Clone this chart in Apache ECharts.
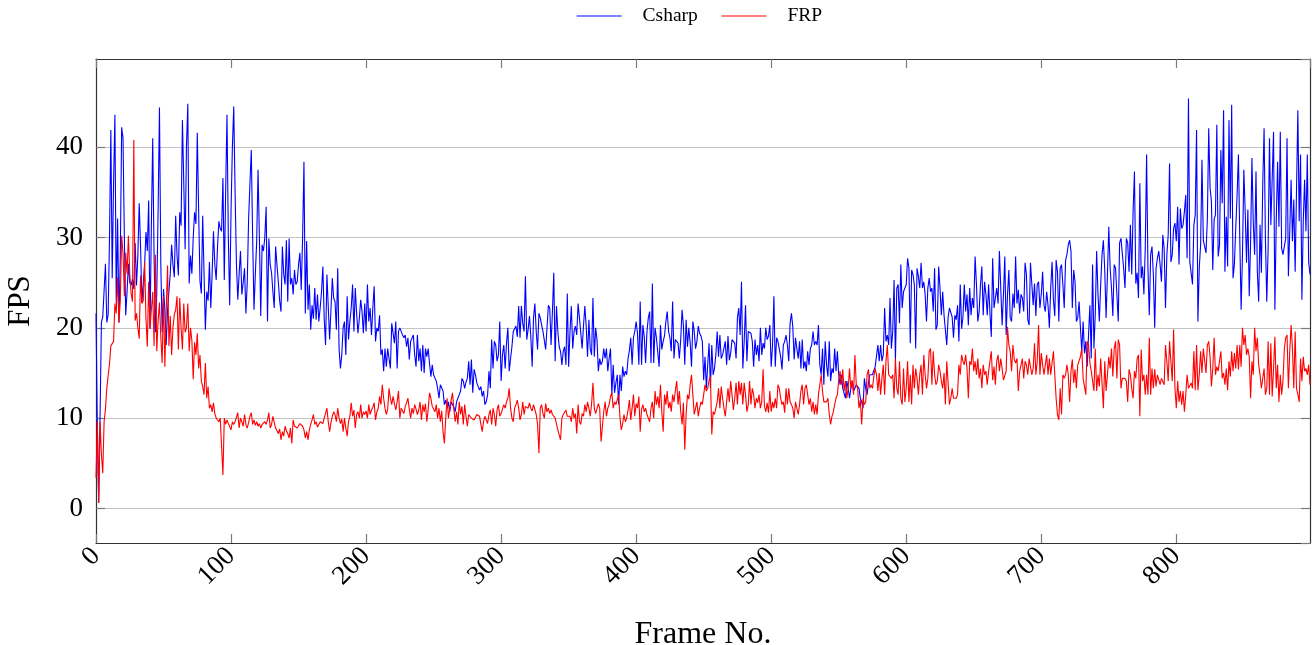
<!DOCTYPE html>
<html>
<head>
<meta charset="utf-8">
<title>FPS per frame</title>
<script src="https://cdn.jsdelivr.net/npm/echarts@6/dist/echarts.min.js"></script>
<style>
  html, body { margin: 0; padding: 0; background: #ffffff; }
  #chart { width: 1315px; height: 645px; }
</style>
</head>
<body>
<div id="chart"></div>
<script>
// Frame rate measured on each frame (index = frame number)
const seriesNames = ['Csharp', 'FRP'];

const csharpFps = [
  21.6, 9, 0.6, 10, 20.6, 21.2, 21, 27.1, 20.6, 21.5,
  30, 41.9, 25.5, 36, 43.6, 22.7, 32.1, 20.6, 28, 42.2,
  41, 30, 21.4, 24, 27.1, 25, 24.7, 25.4, 24.3, 29.4,
  24.7, 28, 33.8, 29, 22.8, 25, 27, 30.6, 28.5, 34.1,
  19.9, 31.3, 41, 28, 19.5, 23.8, 33, 44.4, 27, 19.5,
  24.3, 22, 18.1, 22, 24, 26, 29.2, 27, 25.6, 32.4,
  28, 25.8, 32.8, 31.3, 43, 36, 28.7, 40.2, 44.8, 24.9,
  28, 26, 30, 32.8, 31.5, 41.6, 33, 25.2, 23.8, 32.4,
  32.3, 19.8, 24, 23, 27.3, 22.2, 26, 30.7, 27, 25.3,
  29, 31.8, 31, 30.7, 36.6, 25.3, 35, 43.6, 30, 22.5,
  33, 40, 44.5, 35, 27, 23.1, 26, 28.5, 23.7, 25,
  26.6, 21.6, 25, 32, 36, 39.7, 30, 22, 26, 29.6,
  37.5, 30, 21.3, 29.2, 28.5, 30, 33.4, 20.7, 29.9, 27,
  26.1, 24, 22.2, 29, 27, 25.1, 23, 21.8, 29, 26,
  24.8, 29.7, 22.9, 29.9, 24.8, 25.5, 23.7, 26.4, 24.8, 25.1,
  27, 28.3, 24.2, 30, 38.4, 21.6, 29.6, 22, 24.8, 19.8,
  22.5, 21, 24.4, 20.9, 23.7, 20.7, 22.2, 24, 26.8, 21,
  18.1, 25.9, 25.7, 18.7, 22, 25.5, 23.3, 22.9, 19.8, 26.6,
  17.7, 15.5, 17, 20, 20.7, 17, 23.5, 18.7, 20.7, 22.2,
  24.8, 19.6, 24.4, 21.6, 19.4, 21, 23.1, 21.8, 19.4, 22.7,
  19.6, 24.8, 20.7, 22.2, 19.2, 22.2, 24.6, 18.5, 20, 19.6,
  21.4, 17, 17.6, 15.2, 17.7, 15.7, 17.7, 17.7, 15.5, 20.5,
  20.3, 18.3, 20.7, 15.5, 19.6, 20, 19.6, 19.2, 18.9, 19.2,
  17.9, 18.9, 16.5, 18.5, 18.7, 19.2, 17, 15.7, 19.2, 16.3,
  17.7, 15.2, 18.1, 15, 17.7, 16.8, 17.7, 16, 14.6, 15.9,
  14.8, 14.8, 14.1, 13.3, 12.2, 13.7, 13.5, 13, 11.5, 12,
  11.1, 11.8, 10.7, 11.8, 11.5, 11.2, 10.7, 11.8, 12.2, 12.6,
  13, 14.4, 14.1, 13.3, 14, 14.4, 16.3, 13.7, 16.5, 12.8,
  15.4, 14.8, 13.9, 13.9, 13.1, 13.5, 12.4, 13, 11.5, 11.8,
  12.6, 15.2, 13.3, 18.7, 15.5, 18.5, 18.1, 16.3, 17, 20.7,
  14.1, 17, 18.1, 15.5, 18.3, 20, 15.2, 16.6, 17.9, 19.6,
  19.4, 20.2, 19, 22.4, 18.9, 22.4, 20.5, 19.6, 25.7, 18.7,
  19.8, 21.3, 19, 15.7, 21.1, 22.7, 19.6, 17.6, 21.6, 21.1,
  20.3, 19.6, 19.8, 17.6, 17.8, 22.5, 22.2, 18.1, 21.8, 26.1,
  16.3, 22.4, 19.6, 17.9, 17.4, 15.9, 17.4, 17.9, 15.9, 23.8,
  15.7, 19.6, 22.4, 17.7, 19.6, 20.2, 19.2, 22.7, 21.1, 21.2,
  17.7, 20.2, 22.4, 20.2, 16.8, 20.9, 17.7, 17, 23.3, 16.8,
  20, 18.7, 15.2, 16.6, 15.9, 16.3, 17.7, 16.6, 17.7, 15.2,
  16.6, 17.7, 12.6, 15.9, 12.8, 13.9, 14.8, 11.5, 14.8, 13,
  15.7, 14.6, 15.2, 14.8, 16.6, 17.5, 18.9, 15.9, 18.9, 19.6,
  20.7, 19.4, 15.9, 22.9, 15.9, 20.3, 19, 16.1, 19.6, 21.1,
  21.8, 16.1, 24.9, 16.1, 20, 18.9, 19, 15.7, 20.3, 17.6,
  18.5, 19.1, 20.7, 21.8, 19.6, 18.9, 17.4, 22.9, 16.6, 18.7,
  18.9, 18.3, 16.6, 18.7, 22, 20.2, 15.9, 20.9, 17.9, 20,
  18.3, 15.7, 20.7, 19.6, 17.7, 18.5, 20.2, 19.4, 19.1, 18.5,
  14.2, 16.8, 13.3, 16, 18.3, 13.3, 18.1, 14.8, 15.5, 17,
  19.6, 16.8, 19.2, 16.6, 17, 17.2, 18.5, 15.9, 19.1, 16.4,
  17.2, 18.7, 18.9, 18.3, 16.6, 21.1, 22.2, 19.2, 25.1, 15.5,
  18.5, 22.5, 16.3, 19.6, 19.8, 19.4, 18.5, 15.7, 18.7, 17,
  18.1, 16.3, 20, 17, 18.3, 17.7, 20, 18.7, 19.1, 20.3,
  15.7, 18.1, 23.5, 15.7, 18.9, 18.5, 18.5, 16.8, 15.4, 18.1,
  18.5, 19.2, 18.1, 16.3, 20.5, 21.6, 20.1, 16.5, 18.9, 17.7,
  16.6, 18.5, 15.5, 18.7, 15.5, 16.3, 15.2, 17.4, 15.9, 17.7,
  18.1, 19.6, 18.1, 18.5, 18.1, 20.3, 15.9, 14.8, 17.7, 13.7,
  18.5, 15.9, 14.6, 18.5, 14.1, 15.5, 15, 17.7, 15.2, 17.4,
  14.8, 13.7, 14.8, 13.3, 13.5, 12.2, 14.1, 13.3, 12.2, 13.3,
  14.1, 13, 13.3, 13.7, 13.9, 13.3, 12.2, 11.8, 11.1, 14.4,
  13.3, 12.6, 13.9, 14.8, 14.6, 14.8, 14.6, 15.7, 15.5, 18.1,
  16.3, 18.1, 16.3, 17, 22.2, 18.5, 19.2, 18.1, 23.3, 17.7,
  19.6, 25.3, 16.3, 24.4, 24.8, 20.5, 27, 22.2, 24, 24.4,
  24.8, 27.7, 26.6, 18.3, 26.4, 25.9, 24.8, 17.7, 26.6, 25.7,
  24.4, 27.2, 24.4, 25.1, 23.7, 20.7, 24.4, 25.5, 24, 24.4,
  21.8, 26.6, 19.8, 20.3, 26.8, 24.4, 21.4, 24, 21.4, 21.6,
  18.1, 21.1, 22.2, 22, 21.2, 18.9, 21.4, 20.9, 22.5, 18.5,
  24.8, 19.9, 21.2, 24.8, 21.8, 23.7, 20.3, 24.4, 21.4, 23.3,
  22.2, 27.9, 24.8, 20.7, 21.8, 24.8, 26.8, 21.4, 25.1, 23.7,
  21.4, 24.8, 21.6, 19, 27.7, 22.2, 23.3, 24.4, 22.7, 28.5,
  24.4, 20.3, 23.7, 27.9, 19.2, 23.7, 26.4, 21.1, 20.7, 23.8,
  22.2, 27.9, 22.7, 24.2, 21.6, 23.7, 23.3, 21.8, 27.2, 25.9,
  20.9, 20.3, 27.2, 27, 22.5, 24.9, 21.3, 24.8, 25.1, 22.2,
  23.7, 26.2, 22.5, 21.8, 24, 22.5, 20, 24.4, 27.3, 23.1,
  21.3, 27.5, 26.2, 20.7, 26.6, 27, 24.8, 22.2, 27.5, 28.1,
  29.2, 29.7, 28.5, 22.2, 26.4, 25.1, 20.7, 21.1, 22.9, 20,
  17.4, 20.7, 17.2, 18.5, 15.7, 19.2, 22.5, 16.6, 27, 17.7,
  21.6, 28.5, 23.7, 20.7, 24.8, 28.1, 29.7, 26.4, 21.1, 25.9,
  31.2, 26.6, 24.4, 21.3, 27, 26.6, 23.7, 20.7, 29.4, 29.9,
  30.1, 26.6, 24.4, 29.9, 29.4, 26.2, 31.4, 25.9, 32.9, 37.3,
  24.9, 26.1, 23.3, 36, 25.5, 26.8, 23.7, 28.8, 39.2, 26.6,
  21.4, 28.1, 29, 25.9, 20, 26.6, 27.7, 28.5, 27, 25.1,
  30.3, 28.8, 22.2, 28.1, 30.3, 38.2, 27.3, 28.1, 31, 31.6,
  29.6, 33.4, 27, 33.2, 31, 31.4, 32.9, 34.7, 27.7, 45.4,
  27.3, 27.2, 24.8, 31.4, 32.5, 41.9, 20.7, 26.6, 29.2, 38.6,
  29.7, 29, 28.3, 32.1, 42.1, 35.5, 34, 26.4, 32, 32.5,
  42.5, 27.9, 29.2, 39.7, 33.8, 44.1, 26.2, 32.3, 26.8, 43,
  32.1, 44.7, 25.5, 27, 31, 34.7, 39.2, 29.9, 22, 28.1,
  37.5, 32.9, 27.2, 33.1, 23.5, 29.4, 38.8, 31.6, 28.1, 37.3,
  26.2, 22.9, 31.4, 26.1, 35.8, 42.1, 29.7, 22.9, 28.8, 41,
  31.4, 31.2, 41.7, 22, 31.8, 38.4, 31.2, 41.7, 28.8, 28.1,
  28.3, 29.9, 41, 25.7, 30.7, 36.4, 29.6, 34.2, 26.2, 26.2,
  44.1, 31.8, 39.2, 23.1, 31.8, 36.4, 30.7, 39.2, 27.3, 25.9
];

const frpFps = [
  3.4, 9.6, 0.6, 9.6, 6, 3.9, 9.6, 11, 13.3, 14.7,
  16, 18, 18, 18.5, 22.7, 21.6, 25.6, 20.6, 23, 30.2,
  28.3, 23.5, 28.3, 26, 30.2, 26, 23.8, 22.9, 40.8, 20.8,
  21.6, 20, 18.8, 25.8, 22.7, 23, 27.3, 21, 17.9, 25.1,
  19.9, 22, 24, 18, 28.1, 17.4, 20.8, 22.8, 19, 16.1,
  23.5, 15.7, 22, 26.9, 18, 21.3, 17, 20, 21.5, 22,
  23.5, 17.6, 23.3, 20, 17.6, 22.7, 19.5, 20, 22.7, 17.4,
  20, 18.6, 14.3, 18.4, 17, 19.4, 15.5, 17, 14.1, 13.5,
  12.6, 16.1, 12.2, 13.5, 11.1, 11.5, 10.7, 11.7, 10.5, 10,
  9.8, 9.6, 10, 9.8, 3.7, 10, 9.3, 9.8, 9.4, 9.6,
  8.7, 9.6, 9.3, 9.6, 9.8, 10.6, 8.9, 10, 9.6, 9.1,
  10.4, 9.3, 8.9, 9.5, 10.2, 10.6, 9.3, 9.8, 9.2, 9.6,
  9.1, 9.4, 8.9, 9.3, 9.4, 9.6, 9.3, 9.8, 10.6, 8.9,
  9.3, 10.2, 9.5, 8.9, 8.7, 8.3, 8.8, 7.6, 8.5, 8,
  9.1, 8.6, 8.3, 7.8, 8.9, 7.2, 9.8, 9.1, 9.3, 8.9,
  8.7, 9.4, 9.6, 9.1, 8.7, 7.8, 8.5, 7.6, 8.7, 9.3,
  9.8, 10.4, 9.3, 9.6, 9, 9.1, 9.6, 9.8, 9.4, 10,
  10.2, 11.1, 9.6, 8.5, 9.5, 10.2, 10.7, 10.4, 9.6, 11.1,
  10, 9.4, 9.9, 8.5, 10, 8.9, 8, 9.6, 10.2, 11.7,
  10.2, 10.9, 8.9, 10.4, 10.7, 10, 11.5, 10, 10.7, 10.4,
  10.8, 10, 11.5, 10.4, 10.9, 11.2, 11.7, 9.8, 10.7, 11.1,
  12.4, 11.5, 13.7, 12.2, 11.1, 10.4, 11, 13.3, 12.2, 11.5,
  12.4, 11.6, 10.9, 11.8, 13, 10, 11.1, 10.8, 10.5, 11.3,
  11.7, 12.2, 11, 10, 11.1, 10.5, 11.5, 11, 10.4, 10.9,
  11.8, 9.8, 11.5, 10.7, 11.6, 9.6, 11, 12.8, 12.2, 11.3,
  11, 10.7, 11.5, 10, 11.1, 9.6, 10.8, 8.5, 7.2, 10,
  12.2, 10, 11.1, 12, 12.8, 11, 9.6, 10.7, 9.3, 11.8,
  10.4, 11.3, 9.3, 11.5, 10.2, 9.1, 10.4, 10.5, 10, 10.2,
  9.8, 10, 10.4, 10.5, 10.2, 10, 8.5, 9.6, 10.2, 10.4,
  9.4, 10.4, 10.9, 9.3, 11.1, 10.4, 9.1, 10.9, 11.5, 10.2,
  10.5, 10.4, 11.5, 11.1, 11.8, 12.2, 13.3, 11.1, 10, 9.6,
  11.1, 11.5, 12, 11.1, 9.8, 10.4, 11.8, 10.4, 11.3, 11.5,
  11.1, 11.7, 11.1, 10.8, 11.5, 11.6, 10.4, 9.3, 6.1, 11.1,
  11.5, 10.5, 10, 11.6, 10.7, 11.1, 10.5, 10.9, 10.4, 10.5,
  10, 9.8, 8.7, 8.9, 7.6, 10, 10.4, 10.5, 10.9, 10.2,
  10, 10.2, 9.6, 11.1, 10, 10.5, 8.3, 11.5, 9.6, 9.3,
  10.5, 10.2, 11.5, 10.7, 11.8, 11.1, 10.2, 11.6, 13.9, 11.1,
  10.5, 10.4, 11.6, 11.1, 7.4, 7.2, 10.7, 11.8, 10.2, 11.1,
  11.5, 12.4, 12.8, 11.1, 11.8, 11.5, 11.6, 12.6, 10.1, 8.7,
  9.4, 10.4, 9.6, 10, 10.9, 12, 9.8, 11.1, 12.6, 10.2,
  11.6, 11.1, 12.4, 8.5, 11, 11.5, 10.7, 11.1, 10.4, 10,
  9.6, 11.1, 11.8, 10, 13, 11.5, 12.4, 11.1, 13.7, 10.7,
  8.5, 12.6, 11.5, 13, 11.1, 11.8, 10.7, 12.6, 11.8, 13,
  14.1, 11.5, 13, 10.7, 9.3, 11.7, 6.5, 10.4, 12.6, 12.1,
  13.7, 14.8, 12.6, 10.4, 11.1, 11.8, 10.2, 11.1, 11.8, 11.5,
  12.6, 13.7, 13, 13.3, 14.2, 14.6, 8.2, 10.7, 10.4, 10.5,
  11.8, 13.3, 11.1, 13.5, 12.2, 11.1, 10.2, 11.8, 13.3, 11.8,
  14.1, 12.6, 10.9, 12.2, 13.9, 11.5, 14.1, 12.6, 13.9, 11.5,
  13.9, 12.6, 10.7, 11.5, 14.1, 11.5, 13.3, 12.6, 11.1, 12.2,
  11.7, 12.6, 11.1, 11.8, 15.4, 11.3, 10.7, 11.7, 10.6, 13,
  10.7, 11.8, 11.1, 12.2, 11.1, 13.7, 13.3, 12.2, 11.5, 11.8,
  10.6, 13.3, 11.5, 13.3, 11.8, 11.5, 11.1, 10, 11.8, 11.1,
  10.4, 11.5, 13, 13.7, 11.5, 13.3, 13.7, 12.6, 11.5, 12.2,
  10.7, 11.8, 10.4, 11.5, 10.4, 12.6, 13.7, 14.8, 13, 11.8,
  11.8, 11.8, 12.2, 10.4, 9.3, 10.2, 10.7, 11.5, 12.2, 12.6,
  14.2, 15.2, 13.7, 15.4, 13, 14.1, 12.2, 13.3, 15.5, 13.3,
  14.2, 12.6, 17, 13.7, 13.3, 11.1, 12, 9.3, 12.2, 11.5,
  11.8, 14.8, 15.4, 13.3, 13.7, 13.3, 14.6, 15.5, 14.8, 13,
  15, 12.6, 14.4, 15.9, 12.6, 16.3, 18.1, 14.8, 14.8, 14.4,
  14.8, 12.2, 16.6, 13.3, 12.6, 16.3, 12.2, 11.5, 15.5, 11.8,
  13.3, 16.3, 11.8, 14.8, 11.5, 15.9, 13.3, 15.5, 14.4, 12.6,
  14.8, 15.9, 12.6, 17, 14.8, 13.3, 14.4, 17.4, 17.7, 13.7,
  17.4, 14.8, 13.7, 14.1, 15.9, 15.2, 14.1, 13.3, 15, 11.5,
  16.3, 13.9, 11.5, 12.2, 13.3, 12.2, 12.2, 12.2, 12.6, 15.9,
  14.8, 17, 16.3, 15.9, 17, 15.5, 12.2, 16.3, 15.9, 17.7,
  15.2, 16.3, 14.8, 16.6, 14.4, 15.5, 13.3, 15.9, 14.8, 15.2,
  13.7, 15.2, 16.3, 17.4, 14.2, 15.7, 13.7, 16.3, 17, 15.2,
  16.6, 15.5, 14.2, 14.2, 15.2, 20.1, 18.1, 17.4, 15.2, 18.1,
  16.5, 16.1, 16.6, 13, 15.2, 15, 16.6, 14.4, 16.3, 15.9,
  14.8, 16.6, 16.8, 14.8, 15.5, 18.3, 14.8, 16.3, 20.3, 14.8,
  17.2, 15.9, 14.8, 15.9, 17, 14.8, 16.6, 14.8, 14.8, 17.4,
  14.8, 12.2, 10.4, 9.8, 13.3, 10.4, 14.8, 14.4, 14.8, 15.9,
  14.8, 11.8, 15.2, 16.5, 13.9, 15.4, 13.3, 15.9, 15.9, 16.8,
  17.7, 14.4, 14.2, 12.6, 18.5, 18.1, 16.1, 15.2, 15.4, 13,
  17.7, 13, 14.8, 13.5, 16.6, 16.8, 11.1, 16.3, 13, 14.8,
  16.8, 15.5, 17.7, 14.6, 17.7, 18.5, 14.4, 18.7, 18.1, 13.3,
  14.4, 14.2, 14.4, 14.1, 11.8, 15.4, 14.8, 13.3, 12.2, 15.2,
  14.4, 16.6, 17, 10.2, 17.6, 14.1, 14.8, 12.6, 14.8, 12.6,
  18.9, 12.6, 15.5, 13.3, 15.4, 13.5, 14.8, 14.8, 13.7, 14.4,
  14.2, 13.7, 18.1, 16.3, 14.1, 18.5, 16.3, 14.1, 19.8, 13.3,
  11.1, 14.1, 11.8, 13, 11.5, 13, 10.7, 12.6, 14.8, 13.3,
  13.3, 13.9, 13.3, 17.4, 13.1, 18.1, 13.1, 14.8, 17.4, 15,
  17.7, 17.9, 15, 18.1, 18.5, 16.8, 13.5, 15.5, 18.9, 14.8,
  15.7, 15.2, 15.4, 17.4, 14.4, 15, 13.7, 15.5, 13.1, 16.3,
  14.6, 17.4, 15.2, 17.2, 15.5, 18.1, 15.4, 18.1, 15.7, 20,
  18.1, 19.2, 17, 17.7, 16.8, 12.2, 16.3, 14.8, 20, 17.4,
  18.9, 15.9, 14.8, 13.3, 13.3, 15.5, 12.6, 13.3, 18.5, 12.6,
  18.3, 12.4, 15.5, 19, 13.3, 15.9, 11.8, 14.8, 12.6, 14.2,
  17.7, 18.9, 19.2, 13.3, 17.4, 20.3, 17.7, 13.3, 19.6, 13.3,
  12.6, 11.8, 16.6, 14.1, 16.8, 15.2, 15.5, 14.8, 15.9, 13.7
];

// Axis ranges and tick values
const xRange = [0, 899];
const xTickStep = 100;
const yRange = [-3.83, 49.77];
const yTickValues = [0, 10, 20, 30, 40];

const serif = '"Liberation Serif", "Times New Roman", serif';
const frameColor = '#333333';
const tickColor = '#7a7a7a';

const toPoints = values => values.map((v, i) => [i, v]);

const chart = echarts.init(document.getElementById('chart'), null, { renderer: 'canvas' });

const xBase = {
  type: 'value',
  min: xRange[0],
  max: xRange[1],
  interval: xTickStep,
  axisLine: { show: true, onZero: false, lineStyle: { color: frameColor, width: 1.2 } },
  axisTick: { show: true, inside: true, length: 9, lineStyle: { color: tickColor, width: 1.2 } },
  splitLine: { show: false }
};

const yBase = {
  type: 'value',
  min: yRange[0],
  max: yRange[1],
  splitNumber: 5,
  axisLine: { show: true, onZero: false, lineStyle: { color: frameColor, width: 1.2 } },
  axisTick: { show: true, inside: true, length: 9, lineStyle: { color: tickColor, width: 1.2 } }
};

const option = {
  animation: false,
  backgroundColor: '#ffffff',
  grid: { left: 96, right: 5, top: 59, bottom: 102, containLabel: false, outerBoundsMode: 'none' },
  legend: {
    left: 576,
    top: 6,
    padding: 0,
    itemWidth: 45,
    itemHeight: 19,
    itemGap: 23,
    data: seriesNames,
    itemStyle: { color: 'rgba(0,0,0,0)', borderColor: 'rgba(0,0,0,0)', borderWidth: 0, opacity: 0 },
    lineStyle: { width: 1.2 },
    textStyle: { fontFamily: serif, fontSize: 19.5, color: '#000', padding: [0, 0, 0, 16] }
  },
  xAxis: [
    Object.assign({}, xBase, {
      position: 'bottom',
      name: 'Frame No.',
      nameLocation: 'middle',
      nameGap: 76,
      nameTextStyle: { fontFamily: serif, fontSize: 32, color: '#000', verticalAlign: 'top' },
      axisLabel: {
        show: true,
        rotate: 45,
        margin: 9,
        fontFamily: serif,
        fontSize: 27,
        color: '#000',
        showMaxLabel: false,
        formatter: v => (v % xTickStep === 0 ? String(v) : '')
      }
    }),
    Object.assign({}, xBase, { position: 'top', axisLabel: { show: false } })
  ],
  yAxis: [
    Object.assign({}, yBase, {
      position: 'left',
      name: 'FPS',
      nameLocation: 'middle',
      nameRotate: 90,
      nameGap: 60,
      nameTextStyle: { fontFamily: serif, fontSize: 31, color: '#000' },
      axisLabel: {
        show: true,
        margin: 13,
        fontFamily: serif,
        fontSize: 27,
        color: '#000',
        showMinLabel: false,
        showMaxLabel: false,
        formatter: v => (yTickValues.indexOf(v) >= 0 ? String(v) : '')
      },
      splitLine: { show: true, lineStyle: { color: '#c2c2c2', width: 1.2 } }
    }),
    Object.assign({}, yBase, {
      position: 'right',
      axisLabel: { show: false },
      splitLine: { show: false }
    })
  ],
  series: [
    {
      name: seriesNames[0],
      type: 'line',
      xAxisIndex: 0,
      yAxisIndex: 0,
      data: toPoints(csharpFps),
      symbol: 'none',
      lineStyle: { color: '#0000ff', width: 1.1 },
      itemStyle: { color: '#0000ff' },
      z: 3
    },
    {
      name: seriesNames[1],
      type: 'line',
      xAxisIndex: 0,
      yAxisIndex: 0,
      data: toPoints(frpFps),
      symbol: 'none',
      lineStyle: { color: '#ff0000', width: 1.1 },
      itemStyle: { color: '#ff0000' },
      z: 4
    }
  ]
};

chart.setOption(option);
</script>
</body>
</html>
